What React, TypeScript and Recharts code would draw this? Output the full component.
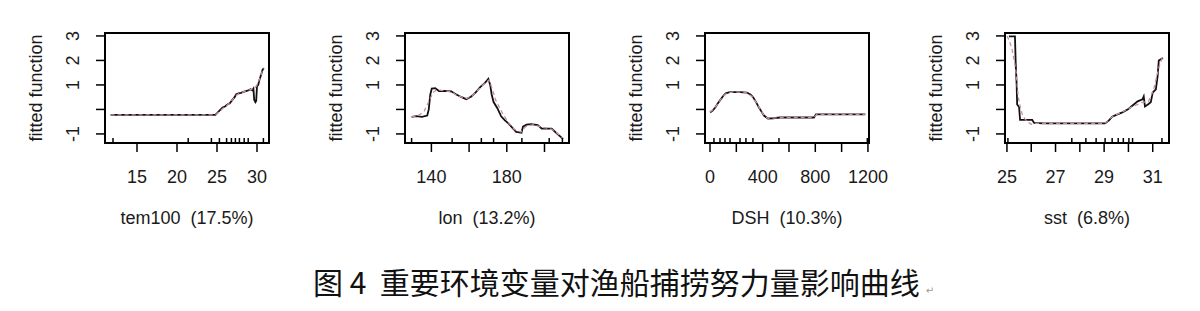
import React from 'react';
import { LineChart, Line, XAxis, YAxis, ReferenceArea } from 'recharts';

// shared y axis
const yTicks = [-1, 0, 1, 2, 3];
const yTickLabels = ['-1', '', '1', '2', '3'];
const yDomain: [number, number] = [-1.37, 3.12];

// tem100
const tem100Ticks = [15, 20, 25, 30];
const tem100TickLabels = ['15', '20', '25', '30'];
const tem100Rug = [12.0, 21.4, 24.3, 25.3, 26.2, 26.8, 27.3, 27.8, 28.4, 28.9, 30.8];
const tem100Fit = [
  [11.7, -0.22], [13, -0.22], [15, -0.22], [17, -0.22], [19, -0.22], [21, -0.22],
  [23, -0.22], [24.8, -0.22], [25.1, -0.12], [25.4, -0.02], [25.7, 0.08], [26.0, 0.12],
  [26.3, 0.2], [26.6, 0.25], [26.9, 0.38], [27.2, 0.5], [27.4, 0.62], [27.7, 0.66],
  [28.0, 0.68], [28.3, 0.72], [28.6, 0.75], [28.9, 0.78], [29.2, 0.82], [29.4, 0.78],
  [29.55, 0.85], [29.65, 0.4], [29.8, 0.3], [29.9, 0.35], [30.0, 0.95], [30.15, 1.0],
  [30.3, 1.2], [30.5, 1.4], [30.7, 1.62], [30.85, 1.68],
];
const tem100Smooth = [
  [11.7, -0.22], [15, -0.22], [20, -0.22], [24.8, -0.22], [25.3, -0.08], [25.8, 0.06],
  [26.3, 0.18], [26.8, 0.33], [27.3, 0.55], [27.8, 0.66], [28.4, 0.73], [28.9, 0.78],
  [29.3, 0.82], [29.6, 0.85], [29.8, 0.9], [30.0, 1.0], [30.2, 1.15], [30.4, 1.3],
  [30.6, 1.5], [30.85, 1.7],
];

// lon
const lonTicks = [140, 160, 180, 200];
const lonTickLabels = ['140', '', '180', ''];
const lonRug = [129.5, 151, 166.5, 173, 188, 202.5, 209.5];
const lonFit = [
  [129.5, -0.3], [132, -0.27], [135, -0.3], [137.8, -0.25], [138.6, 0.0], [139.4, 0.6],
  [140.2, 0.85], [142, 0.87], [144, 0.75], [147, 0.76], [150.5, 0.74], [153, 0.62],
  [156, 0.5], [158.5, 0.42], [161, 0.52], [163.5, 0.7], [166, 0.92], [168, 1.05],
  [170.2, 1.25], [171.2, 1.0], [172, 0.6], [173, 0.3], [175, 0.05], [177, -0.28],
  [179, -0.45], [181, -0.58], [183, -0.75], [185, -0.92], [187.8, -0.95], [188.6, -0.7],
  [190.5, -0.62], [193, -0.6], [196.4, -0.64], [198.5, -0.78], [203.8, -0.78],
  [206.5, -0.98], [209.8, -1.2],
];
const lonSmooth = [
  [129.5, -0.3], [133, -0.25], [136, -0.1], [138.5, 0.3], [141, 0.7], [143, 0.8],
  [147, 0.76], [150.5, 0.72], [153, 0.6], [156, 0.5], [158.5, 0.44], [161, 0.52],
  [163.5, 0.7], [166, 0.9], [168.5, 1.08], [170.5, 1.2], [172, 0.9], [174, 0.4],
  [176, 0.1], [178, -0.2], [181, -0.55], [184, -0.82], [187.5, -0.92], [190, -0.7],
  [194, -0.62], [198, -0.72], [203, -0.78], [206.5, -0.95], [209.8, -1.18],
];

// DSH
const dshTicks = [0, 200, 400, 600, 800, 1000, 1200];
const dshTickLabels = ['0', '', '400', '', '800', '', '1200'];
const dshRug = [30, 76, 114, 152, 228, 273, 326, 524, 1195];
const dshFit = [
  [0, -0.12], [20, -0.05], [40, 0.08], [60, 0.25], [80, 0.4], [100, 0.55], [120, 0.66],
  [150, 0.71], [190, 0.71], [230, 0.71], [280, 0.69], [310, 0.6], [330, 0.48],
  [350, 0.3], [370, 0.1], [390, -0.08], [410, -0.25], [440, -0.37], [480, -0.36],
  [532, -0.33], [600, -0.33], [700, -0.33], [790, -0.33], [805, -0.2], [900, -0.2],
  [1000, -0.2], [1100, -0.2], [1180, -0.2],
];
const dshSmooth = [
  [0, -0.1], [30, 0.02], [60, 0.24], [90, 0.48], [120, 0.64], [150, 0.7], [230, 0.71],
  [280, 0.68], [320, 0.52], [350, 0.3], [380, 0.02], [410, -0.24], [440, -0.36],
  [532, -0.34], [790, -0.32], [810, -0.21], [1180, -0.2],
];

// sst
const sstTicks = [25, 26, 27, 28, 29, 30, 31];
const sstTickLabels = ['25', '', '27', '', '29', '', '31'];
const sstRug = [25.04, 27.67, 28.25, 28.67, 29.04, 29.33, 29.58, 29.79, 30.02, 30.17, 31.38];
const sstFit = [
  [25.08, 2.98], [25.33, 2.98], [25.36, 1.9], [25.4, 1.0], [25.42, 0.2], [25.5, 0.1],
  [25.54, -0.43], [26.04, -0.43], [26.12, -0.55], [26.5, -0.57], [27, -0.57],
  [27.5, -0.57], [28, -0.57], [28.5, -0.57], [29.04, -0.57], [29.2, -0.45],
  [29.33, -0.3], [29.5, -0.22], [29.75, -0.12], [30, 0.02], [30.17, 0.16],
  [30.38, 0.33], [30.58, 0.41], [30.63, 0.53], [30.68, 0.12], [30.8, 0.2],
  [30.92, 0.29], [31.0, 0.69], [31.13, 0.82], [31.2, 1.35], [31.25, 2.0], [31.42, 2.1],
];
const sstSmooth = [
  [25.0, 3.0], [25.1, 2.8], [25.21, 2.45], [25.3, 2.0], [25.38, 1.5], [25.46, 0.53],
  [25.55, 0.1], [25.63, -0.2], [25.75, -0.4], [25.83, -0.49], [26.0, -0.61],
  [26.2, -0.57], [27, -0.57], [28, -0.57], [29.04, -0.57], [29.33, -0.3],
  [29.75, -0.1], [30.17, 0.12], [30.58, 0.29], [30.83, 0.33], [31.04, 0.82],
  [31.25, 1.7], [31.42, 2.2],
];

const caption = '图 4  重要环境变量对渔船捕捞努力量影响曲线';

const toRows = (pts: number[][]) => pts.map(([x, y]) => ({ x, y }));

const panels = [
  { title: 'tem100  (17.5%)', domain: [11.0, 31.5], ticks: tem100Ticks, labels: tem100TickLabels, rug: tem100Rug, fit: tem100Fit, smooth: tem100Smooth },
  { title: 'lon  (13.2%)', domain: [126, 213], ticks: lonTicks, labels: lonTickLabels, rug: lonRug, fit: lonFit, smooth: lonSmooth },
  { title: 'DSH  (10.3%)', domain: [-38, 1208], ticks: dshTicks, labels: dshTickLabels, rug: dshRug, fit: dshFit, smooth: dshSmooth },
  { title: 'sst  (6.8%)', domain: [24.92, 31.67], ticks: sstTicks, labels: sstTickLabels, rug: sstRug, fit: sstFit, smooth: sstSmooth },
];

const FONT = '"Liberation Sans", Arial, sans-serif';
const INK = '#1a1a1a';

function XTick(props: any) {
  const { x, y, payload, ticks, labels } = props;
  const i = ticks.indexOf(payload.value);
  if (i < 0) {
    // rug mark, drawn inward from the box
    return <line x1={x} x2={x} y1={y} y2={y - 5} stroke="#000" strokeWidth={1.5} />;
  }
  return (
    <g>
      <line x1={x} x2={x} y1={y} y2={y + 9} stroke="#000" strokeWidth={1.5} />
      {labels[i] && (
        <text x={x} y={y + 40} textAnchor="middle" fontFamily={FONT} fontSize={18} fill={INK}>
          {labels[i]}
        </text>
      )}
    </g>
  );
}

function YTick(props: any) {
  const { x, y, payload } = props;
  const label = yTickLabels[yTicks.indexOf(payload.value)];
  return (
    <g>
      <line x1={x - 9} x2={x} y1={y} y2={y} stroke="#000" strokeWidth={1.5} />
      {label && (
        <text
          x={x - 26}
          y={y}
          transform={`rotate(-90, ${x - 26}, ${y})`}
          textAnchor="middle"
          fontFamily={FONT}
          fontSize={18}
          fill={INK}
        >
          {label}
        </text>
      )}
    </g>
  );
}

function Panel({ p }: { p: (typeof panels)[number] }) {
  const xTitle = (props: any) => {
    const vb = props.viewBox ?? { x: 105, y: 143, width: 164, height: 97 };
    return (
      <text
        x={vb.x + vb.width / 2}
        y={vb.y + 81}
        textAnchor="middle"
        fontFamily={FONT}
        fontSize={18}
        fill={INK}
        style={{ whiteSpace: 'pre' }}
      >
        {p.title}
      </text>
    );
  };
  const yTitle = (props: any) => {
    const vb = props.viewBox ?? { x: 0, y: 33, width: 105, height: 110 };
    const cx = vb.x + 42;
    const cy = vb.y + vb.height / 2;
    return (
      <text x={cx} y={cy} transform={`rotate(-90, ${cx}, ${cy})`} textAnchor="middle" fontFamily={FONT} fontSize={18} fill={INK}>
        fitted function
      </text>
    );
  };
  return (
    <LineChart width={300} height={240} margin={{ top: 33, right: 31, bottom: 0, left: 0 }}>
      <XAxis
        dataKey="x"
        type="number"
        domain={p.domain}
        ticks={[...p.ticks, ...p.rug]}
        interval={0}
        height={97}
        tickSize={0}
        tickMargin={0}
        axisLine={false}
        tickLine={false}
        allowDataOverflow
        tick={(t: any) => <XTick {...t} ticks={p.ticks} labels={p.labels} />}
        label={xTitle}
      />
      <YAxis
        type="number"
        domain={yDomain}
        ticks={yTicks}
        interval={0}
        width={105}
        tickSize={0}
        tickMargin={0}
        axisLine={false}
        tickLine={false}
        allowDataOverflow
        tick={(t: any) => <YTick {...t} />}
        label={yTitle}
      />
      <ReferenceArea
        x1={p.domain[0]}
        x2={p.domain[1]}
        y1={yDomain[0]}
        y2={yDomain[1]}
        fill="none"
        fillOpacity={0}
        stroke="#000"
        strokeWidth={2}
        ifOverflow="visible"
      />
      <Line data={toRows(p.fit)} dataKey="y" type="linear" stroke="#111" strokeWidth={1.8} dot={false} isAnimationActive={false} />
      <Line data={toRows(p.smooth)} dataKey="y" type="linear" stroke="#c98f9c" strokeWidth={1.3} strokeDasharray="4 3" dot={false} isAnimationActive={false} />
    </LineChart>
  );
}

export default function App() {
  return (
    <div style={{ position: 'absolute', left: 0, top: 0, width: 1200, height: 311, background: '#fff', overflow: 'hidden' }}>
      {panels.map((p, i) => (
        <div key={p.title} style={{ position: 'absolute', left: i * 300, top: 0 }}>
          <Panel p={p} />
        </div>
      ))}
      <div
        style={{
          position: 'absolute',
          left: 313,
          top: 266,
          fontFamily: '"Noto Sans CJK SC", sans-serif',
          fontSize: 30,
          lineHeight: '30px',
          whiteSpace: 'pre',
          color: '#111',
        }}
      >
        {caption}
        <span style={{ fontFamily: '"DejaVu Sans", sans-serif', fontSize: 10, color: '#999', marginLeft: 6 }}>↵</span>
      </div>
    </div>
  );
}
